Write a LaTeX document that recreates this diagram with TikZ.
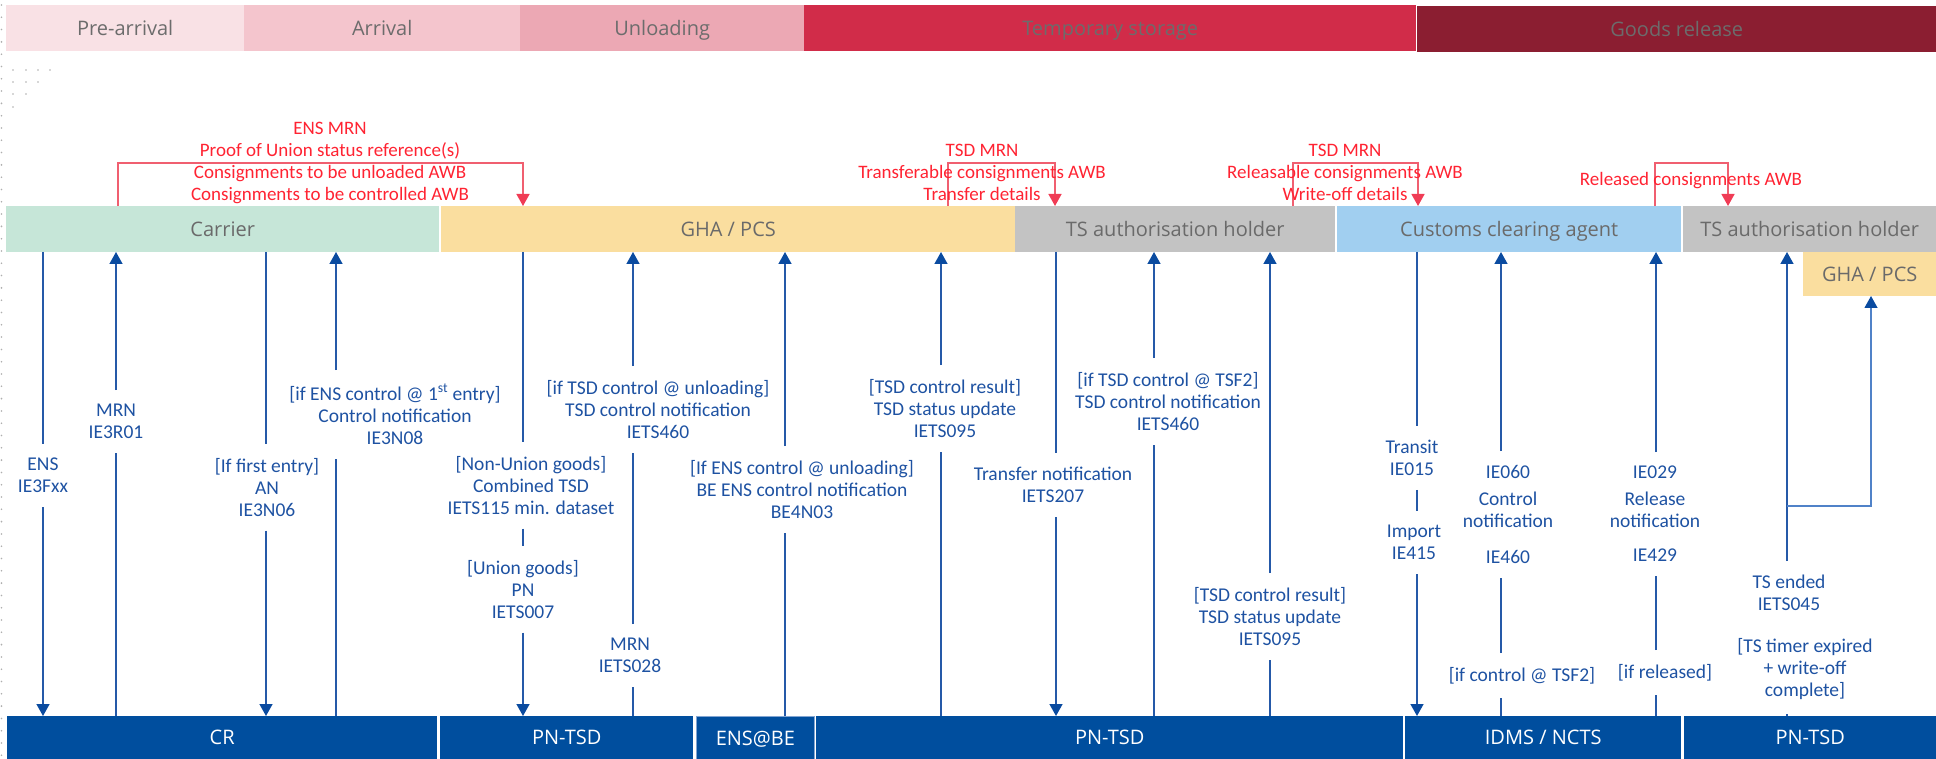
\documentclass[tikz,border=0pt]{standalone}
\usepackage{fontspec}
\setmainfont{Open Sans}
\newfontfamily\labfont{Carlito}
\usetikzlibrary{arrows.meta}
\definecolor{ph1}{RGB}{249,225,229}
\definecolor{ph2}{RGB}{244,197,205}
\definecolor{ph3}{RGB}{236,168,180}
\definecolor{ph4}{RGB}{209,44,73}
\definecolor{ph5}{RGB}{139,30,49}
\definecolor{phasetext}{RGB}{108,108,108}
\definecolor{roletext}{RGB}{106,106,106}
\definecolor{carriercol}{RGB}{198,230,216}
\definecolor{ghacol}{RGB}{250,222,159}
\definecolor{tscol}{RGB}{195,195,195}
\definecolor{ccacol}{RGB}{161,207,240}
\definecolor{sysblue}{RGB}{0,78,158}
\definecolor{sysedge}{RGB}{130,165,210}
\definecolor{lineblue}{RGB}{37,89,168}
\definecolor{lineblue2}{RGB}{80,130,200}
\definecolor{tipblue}{RGB}{10,75,160}
\definecolor{labblue}{RGB}{30,82,162}
\definecolor{redtext}{RGB}{255,35,50}
\definecolor{redline}{RGB}{240,95,112}
\definecolor{redtip}{RGB}{240,60,85}
\definecolor{dotgrey}{RGB}{175,175,175}
\begin{document}
\begin{tikzpicture}[x=1pt,y=-1pt,
  barbox/.style={draw=none,inner sep=0pt,anchor=north west,font=\fontsize{20}{24}\selectfont,text height=14.3pt,text depth=0pt},
  phase/.style={barbox,minimum height=46pt,text=phasetext},
  role/.style={barbox,minimum height=46pt,text=roletext},
  sys/.style={barbox,minimum height=43pt,fill=sysblue,text=white},
  lab/.style={font=\labfont\fontsize{19.5}{22}\selectfont,text=labblue,align=center,inner xsep=2pt,inner ysep=14pt,anchor=north},
  rlab/.style={font=\labfont\fontsize{19}{22}\selectfont,text=redtext,align=center,inner sep=0pt,anchor=north},
  ln/.style={draw=lineblue,line width=1.5pt},
  uparr/.style={ln,-{Triangle[width=13pt,length=12pt,color=tipblue]}},
  rline/.style={draw=redline,line width=1.4pt,-{Triangle[width=13pt,length=12pt,color=redtip]}},
]
\useasboundingbox (0,0) rectangle (1936,759);
% faint grid dots
\foreach \i in {0,...,61} {\fill[dotgrey] (1.5,{5+12.3*\i}) circle (0.9pt);}
\foreach \p in {(13,70),(26,70),(38,70),(50,70),(13,82),(26,82),(38,82),(13,94),(26,94),(13,107)}
  {\fill[dotgrey] \p circle (0.9pt);}

% phases
\node[phase,fill=ph1,minimum width=238pt] (pre) at (6,5) {Pre-arrival};
\node[phase,fill=ph2,minimum width=276pt] (arr) at (244,5) {Arrival};
\node[phase,fill=ph3,minimum width=284pt] (unl) at (520,5) {Unloading};
\node[phase,fill=ph4,minimum width=612pt] (tmp) at (804,5) {Temporary storage};
\node[phase,fill=ph5,minimum width=519pt] (gr) at (1417,6) {Goods release};

% roles
\node[role,fill=carriercol,minimum width=433pt] (carrier) at (6,206) {Carrier};
\node[role,fill=ghacol,minimum width=574pt] (gha) at (441,206) {GHA / PCS};
\node[role,fill=tscol,minimum width=320pt] (tsa) at (1015,206) {TS authorisation holder};
\node[role,fill=ccacol,minimum width=344pt] (cca) at (1337,206) {Customs clearing agent};
\node[role,fill=tscol,minimum width=253pt] (tsb) at (1683,206) {TS authorisation holder};
\node[role,fill=ghacol,minimum width=133pt,minimum height=44pt] (gha2) at (1803,252) {GHA / PCS};

% systems
\node[sys,minimum width=430pt] (cr) at (7,716) {CR};
\node[sys,minimum width=253pt] (pn1) at (440,716) {PN-TSD};
\node[sys,minimum width=118pt,draw=sysedge,line width=0.8pt] (ensbe) at (696,716) {ENS@BE};
\node[sys,minimum width=587pt] (pn2) at (816,716) {PN-TSD};
\node[sys,minimum width=276pt] (idms) at (1405,716) {IDMS / NCTS};
\node[sys,minimum width=252pt] (pn3) at (1684,716) {PN-TSD};

% red information flows
\coordinate (ra1) at (118,206); \coordinate (ra2) at (523,206);
\draw[rline] (ra1) -- ++(0,-43) -| (ra2);
\node[rlab] (ta) at (330,122) {ENS MRN\\Proof of Union status reference(s)\\Consignments to be unloaded AWB\\Consignments to be controlled AWB};
\coordinate (rb1) at (948,206); \coordinate (rb2) at (1055,206);
\draw[rline] (rb1) -- ++(0,-43) -| (rb2);
\node[rlab] (tb) at (982,144) {TSD MRN\\Transferable consignments AWB\\Transfer details};
\coordinate (rc1) at (1293,206); \coordinate (rc2) at (1418,206);
\draw[rline] (rc1) -- ++(0,-43) -| (rc2);
\node[rlab] (tc) at (1345,144) {TSD MRN\\Releasable consignments AWB\\Write-off details};
\coordinate (rd1) at (1655,206); \coordinate (rd2) at (1728,206);
\draw[rline] (rd1) -- ++(0,-43) -| (rd2);
\node[rlab] (td) at (1691,172) {Released consignments AWB};

% 1 ENS
\coordinate (t1) at (43,252); \coordinate (b1) at (43,716);
\node[lab] (l1) at (43,444) {ENS\\IE3Fxx};
\draw[ln] (t1) -- (l1.north -| t1);
\draw[uparr] (l1.south -| b1) -- (b1);
% 2 MRN
\coordinate (t2) at (116,252); \coordinate (b2) at (116,716);
\node[lab] (l2) at (116,390) {MRN\\IE3R01};
\draw[uparr] (l2.north -| t2) -- (t2);
\draw[ln] (b2) -- (l2.south -| b2);
% 3 AN
\coordinate (t3) at (266,252); \coordinate (b3) at (266,716);
\node[lab] (l3) at (267,444) {[If first entry]\\AN\\IE3N06};
\draw[ln] (t3) -- (l3.north -| t3);
\draw[uparr] (l3.south -| b3) -- (b3);
% 4 IE3N08
\coordinate (t4) at (336,252); \coordinate (b4) at (336,716);
\node[lab] (l4) at (395,370) {[if ENS control @ 1\textsuperscript{st} entry]\\Control notification\\IE3N08};
\draw[uparr] (l4.north -| t4) -- (t4);
\draw[ln] (b4) -- (l4.south -| b4);
% 5 PN / TSD
\coordinate (t5) at (523,252); \coordinate (b5) at (523,716);
\node[lab] (l5a) at (531,442) {[Non-Union goods]\\Combined TSD\\IETS115 min. dataset};
\node[lab] (l5b) at (523,546) {[Union goods]\\PN\\IETS007};
\draw[ln] (t5) -- (l5a.north -| t5);
\draw[ln] (l5a.south -| t5) -- (l5b.north -| t5);
\draw[uparr] (l5b.south -| b5) -- (b5);
% 6 IETS460 / IETS028
\coordinate (t6) at (633,252); \coordinate (b6) at (633,716);
\node[lab] (l6a) at (658,366) {[if TSD control @ unloading]\\TSD control notification\\IETS460};
\node[lab] (l6b) at (630,624) {MRN\\IETS028};
\draw[uparr] (l6a.north -| t6) -- (t6);
\draw[ln] (l6b.north -| t6) -- (l6a.south -| t6);
\draw[ln] (b6) -- (l6b.south -| b6);
% 7 BE4N03
\coordinate (t7) at (785,252); \coordinate (b7) at (785,716);
\node[lab] (l7) at (802,446) {[If ENS control @ unloading]\\BE ENS control notification\\BE4N03};
\draw[uparr] (l7.north -| t7) -- (t7);
\draw[ln] (b7) -- (l7.south -| b7);
% 8 IETS095
\coordinate (t8) at (941,252); \coordinate (b8) at (941,716);
\node[lab] (l8) at (945,365) {[TSD control result]\\TSD status update\\IETS095};
\draw[uparr] (l8.north -| t8) -- (t8);
\draw[ln] (b8) -- (l8.south -| b8);
% 9 IETS207
\coordinate (t9) at (1056,252); \coordinate (b9) at (1056,716);
\node[lab] (l9) at (1053,453) {Transfer notification\\IETS207};
\draw[ln] (t9) -- (l9.north -| t9);
\draw[uparr] (l9.south -| b9) -- (b9);
% 10 IETS460 TSF2
\coordinate (t10) at (1154,252); \coordinate (b10) at (1154,716);
\node[lab] (l10) at (1168,358) {[if TSD control @ TSF2]\\TSD control notification\\IETS460};
\draw[uparr] (l10.north -| t10) -- (t10);
\draw[ln] (b10) -- (l10.south -| b10);
% 11 IETS095 (2)
\coordinate (t11) at (1270,252); \coordinate (b11) at (1270,716);
\node[lab] (l11) at (1270,573) {[TSD control result]\\TSD status update\\IETS095};
\draw[uparr] (l11.north -| t11) -- (t11);
\draw[ln] (b11) -- (l11.south -| b11);
% 12 Transit / Import
\coordinate (t12) at (1417,252); \coordinate (b12) at (1417,716);
\node[lab] (l12a) at (1412,426) {Transit\\IE015};
\node[lab] (l12b) at (1414,511) {Import\\IE415};
\draw[ln] (t12) -- (l12a.north -| t12);
\draw[ln] (l12a.south -| t12) -- (l12b.north -| t12);
\draw[uparr] (l12b.south -| b12) -- (b12);
% 13 IE060 / IE460
\coordinate (t13) at (1501,252); \coordinate (b13) at (1501,716);
\node[lab] (l13a) at (1508,451) {IE060\\[5pt]Control\\notification\\[14pt]IE460};
\node[lab] (l13b) at (1522,653) {[if control @ TSF2]};
\draw[uparr] (l13a.north -| t13) -- (t13);
\draw[ln] (l13b.north -| t13) -- (l13a.south -| t13);
\draw[ln] (b13) -- (l13b.south -| b13);
% 14 IE029 / IE429
\coordinate (t14) at (1656,252); \coordinate (b14) at (1656,716);
\node[lab] (l14a) at (1655,452) {IE029\\[5pt]Release\\notification\\[12pt]IE429};
\node[lab] (l14b) at (1665,650) {[if released]};
\draw[uparr] (l14a.north -| t14) -- (t14);
\draw[ln] (l14b.north -| t14) -- (l14a.south -| t14);
\draw[ln] (b14) -- (l14b.south -| b14);
% 15 TS ended
\coordinate (t15) at (1787,252); \coordinate (b15) at (1787,716);
\node[lab] (l15a) at (1789,561) {TS ended\\IETS045};
\node[lab] (l15b) at (1805,624) {[TS timer expired\\+ write-off\\complete]};
\draw[uparr] (l15a.north -| t15) -- (t15);
\draw[ln] (b15) -- (l15b.south -| b15);
\coordinate (br) at (1787,506); \coordinate (tg) at (1871,296);
\draw[uparr,draw=lineblue2,line width=1.2pt] (br) -| (tg);
\end{tikzpicture}
\end{document}
